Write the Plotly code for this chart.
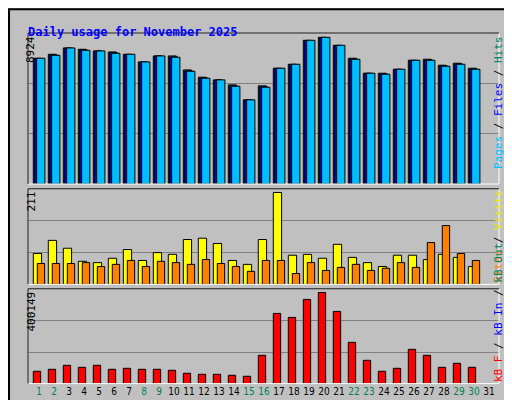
import plotly.graph_objects as go

days = list(range(1, 32))
hits = [7650, 7893, 8277, 8196, 8095, 8034, 7893, 7427, 7791, 7791, 6941, 6496, 6334, 6031, 5120,
        5970, 7043, 7285, 8742, 8924, 8439, 7650, 6739, 6739, 6982, 7528, 7589, 7225, 7346, 7043]
files = [7630, 7840, 8260, 8150, 8080, 7980, 7880, 7410, 7780, 7730, 6880, 6450, 6320, 5960, 5110,
         5910, 7030, 7270, 8730, 8910, 8420, 7600, 6730, 6690, 6970, 7520, 7540, 7180, 7300, 6990]
pages = [7650, 7832, 8277, 8135, 8095, 7953, 7893, 7427, 7791, 7711, 6860, 6435, 6334, 5950, 5120,
         5890, 7043, 7285, 8742, 8924, 8439, 7589, 6739, 6679, 6982, 7528, 7528, 7164, 7285, 6982]
visits = [71, 101, 83, 53, 50, 60, 80, 55, 73, 69, 103, 106, 94, 55, 46,
          103, 211, 67, 69, 60, 92, 62, 50, 41, 67, 67, 57, 69, 62, 41]
sites = [48, 48, 48, 50, 41, 46, 55, 41, 53, 50, 46, 57, 48, 41, 30,
         55, 55, 25, 50, 32, 39, 46, 32, 37, 50, 39, 96, 135, 71, 55]
kbf = [54035, 62797, 80322, 71560, 80322, 62797, 67178, 62797, 62797, 58416, 45272, 40891, 40891, 36510, 32129,
       124134, 308144, 290620, 369481, 400149, 316907, 181090, 102228, 54035, 67178, 150421, 124134, 71560, 89084, 71560]
weekend = [1, 2, 8, 9, 15, 16, 22, 23, 29, 30]
max_hits, max_visits, max_kb = 8924, 211, 400149

d = days[:30]
fig = go.Figure()
def bar(y, color, offset, width, ax):
    fig.add_trace(go.Bar(x=d, y=y, marker=dict(color=color, line=dict(color="black", width=1)),
                         offset=offset, width=width, xaxis="x", yaxis=ax, hoverinfo="skip"))
bar(hits, "#008060", -0.38, 0.53, "y")
bar(files, "#0000FF", -0.29, 0.53, "y")
bar(pages, "#00BFFF", -0.155, 0.55, "y")
bar(visits, "#FFFF00", -0.38, 0.553, "y2")
bar(sites, "#FF8000", -0.113, 0.49, "y2")
bar(kbf, "#FF0000", -0.38, 0.49, "y3")

ticktext = [f"<span style='color:{'#008050' if x in weekend else 'black'}'>{x}</span>" for x in days]
r1 = max_hits * 151 / 146.7
r2 = max_visits * 287 / 276
r3 = max_kb * 285 / 274
def yax(dom, r):
    return dict(domain=dom, range=[0, r], tickvals=[r / 3, 2 * r / 3], showticklabels=False,
                gridcolor="#808080", gridwidth=1, zeroline=False, fixedrange=True, showline=False)

fig.update_layout(
    width=512, height=400, margin=dict(l=0, r=0, t=0, b=0),
    paper_bgcolor="#C0C0C0", plot_bgcolor="#C0C0C0", showlegend=False, barmode="overlay",
    font=dict(family="DejaVu Sans Mono", size=11, color="black"),
    xaxis=dict(domain=[20 / 512, 491 / 512], range=[0.2667, 31.667], tickvals=days, ticktext=ticktext,
               showgrid=False, zeroline=False, anchor="y3", ticks="", tickangle=0,
               tickfont=dict(size=10, family="Liberation Sans Narrow, DejaVu Sans Condensed")),
    yaxis=yax([0.56, 0.9375], r1),
    yaxis2=yax([0.309, 0.548], r2),
    yaxis3=yax([0.061, 0.298], r3),
)
shapes = [dict(type="rect", xref="paper", yref="paper", x0=0.002, x1=0.998, y0=0.003, y1=0.997,
               line=dict(color="black", width=2))]
for y0, y1 in [(0.56, 0.9375), (0.309, 0.548), (0.061, 0.298)]:
    shapes.append(dict(type="rect", xref="paper", yref="paper", x0=20 / 512, x1=491 / 512, y0=y0, y1=y1,
                       line=dict(color="white", width=1)))
    shapes.append(dict(type="line", xref="paper", yref="paper", x0=20 / 512, x1=20 / 512, y0=y0, y1=y1,
                       line=dict(color="black", width=1)))
    shapes.append(dict(type="line", xref="paper", yref="paper", x0=20 / 512, x1=491 / 512, y0=y1, y1=y1,
                       line=dict(color="black", width=1)))
fig.update_layout(shapes=shapes)

ann = [
    dict(text="<b>Daily usage for November 2025</b>", x=18 / 512, y=1 - 15 / 400, xanchor="left",
         font=dict(color="#0000FF", size=12)),
    dict(text=str(max_hits), x=14 / 512, y=1 - 26 / 400, yanchor="top", textangle=-90),
    dict(text=str(max_visits), x=14 / 512, y=1 - 182 / 400, yanchor="top", textangle=-90),
    dict(text=str(max_kb), x=14 / 512, y=1 - 282 / 400, yanchor="top", textangle=-90),
    dict(text="<span style='color:#00BFFF'>Pages</span> / <span style='color:#0000FF'>Files</span> / "
              "<span style='color:#008060'>Hits</span>", x=499 / 512, y=1 - 26 / 400, yanchor="top", textangle=-90),
    dict(text="<span style='color:#FF8000'>Sites</span> / <span style='color:#E8E800'>Visits</span>",
         x=499 / 512, y=1 - 180 / 400, yanchor="top", textangle=-90),
    dict(text="<span style='color:#FF0000'>kB F</span> / <span style='color:#0000FF'>kB In</span> / "
              "<span style='color:#008060'>kB Out</span>", x=499 / 512, y=1 - 376 / 400, yanchor="bottom", textangle=-90),
]
for a in ann:
    a.update(xref="paper", yref="paper", showarrow=False)
    if "font" not in a:
        a["font"] = dict(size=11)
fig.update_layout(annotations=ann)
fig.write_html("out.html")
